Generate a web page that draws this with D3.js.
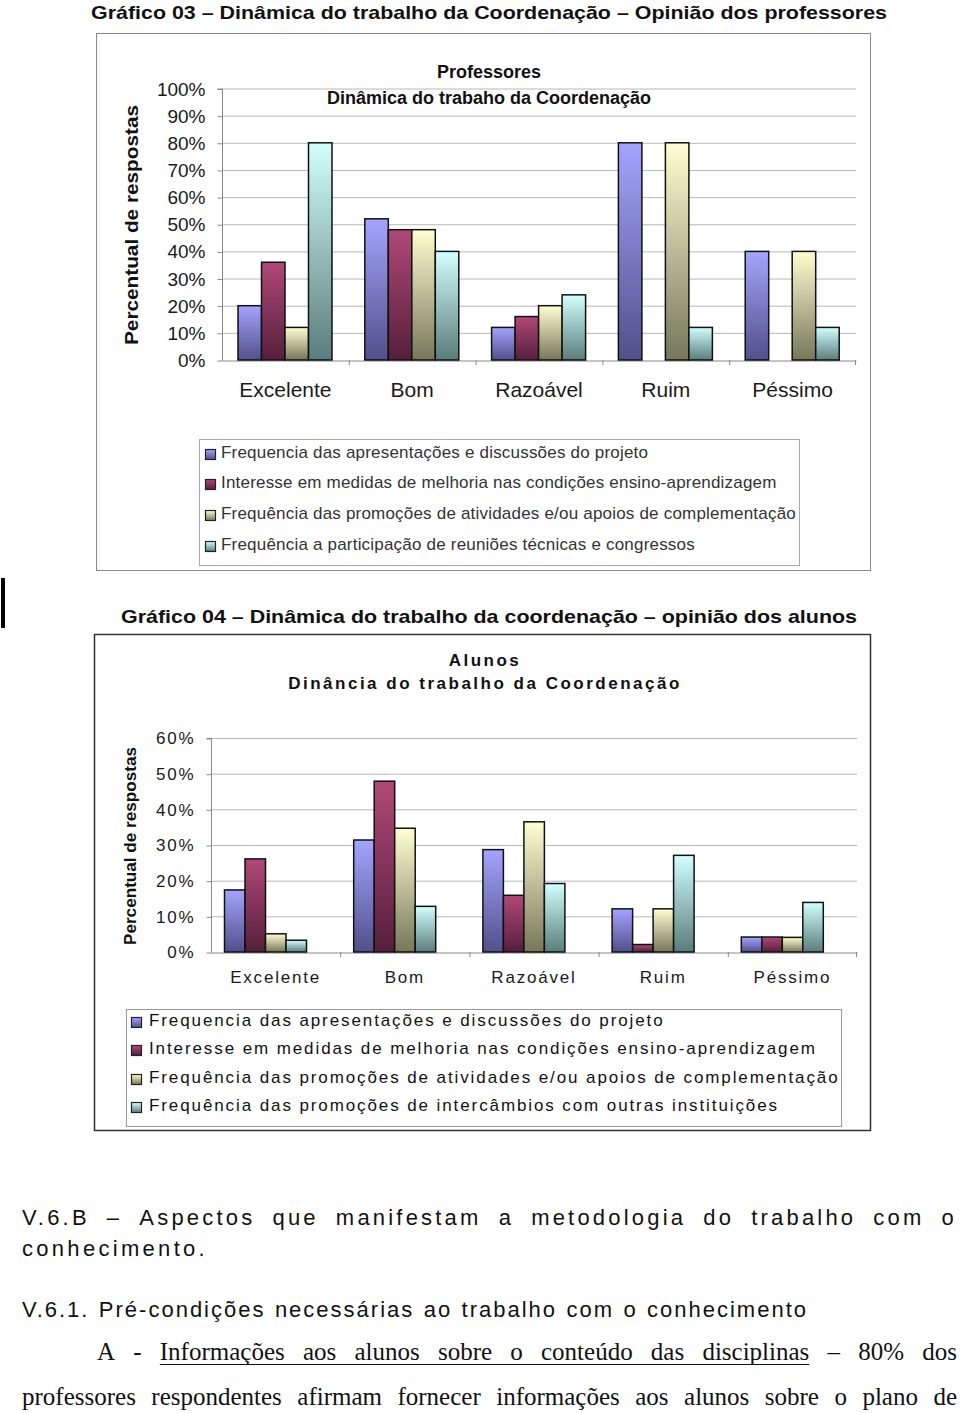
<!DOCTYPE html>
<html><head><meta charset="utf-8">
<script src="https://cdn.jsdelivr.net/npm/d3@7"></script>
<style>
body{margin:0;background:#fff;}
svg{display:block;}
text{font-family:"Liberation Sans",Arial,sans-serif;}
.serif{font-family:"Liberation Serif","Times New Roman",serif;}
</style></head>
<body>
<svg id="c" width="960" height="1413"></svg>
<script>
// ---------- data ----------
const categories = ["Excelente","Bom","Razoável","Ruim","Péssimo"];
const profSeriesNames = [
  "Frequencia das apresentações e discussões do projeto",
  "Interesse em medidas de melhoria nas condições ensino-aprendizagem",
  "Frequência das promoções de atividades e/ou apoios de complementação",
  "Frequência a participação de reuniões técnicas e congressos"];
const profBlue   = [20, 52, 12, 80, 40];
const profMaroon = [36, 48, 16,  0,  0];
const profYellow = [12, 48, 20, 80, 40];
const profCyan   = [80, 40, 24, 12, 12];
const profTicks = [0,10,20,30,40,50,60,70,80,90,100];

const aluSeriesNames = [
  "Frequencia das apresentações e discussões do projeto",
  "Interesse em medidas de melhoria nas condições ensino-aprendizagem",
  "Frequência das promoções de atividades e/ou apoios de complementação",
  "Frequência das promoções de intercâmbios com outras instituições"];
const aluBlue   = [17.4, 31.4, 28.7, 12.1, 4.2];
const aluMaroon = [26.1, 47.9, 15.9,  2.1, 4.2];
const aluYellow = [ 5.1, 34.7, 36.5, 12.1, 4.1];
const aluCyan   = [ 3.3, 12.8, 19.2, 27.1, 13.9];
const aluTicks = [0,10,20,30,40,50,60];

// ---------- styles ----------
const grads = [
  {id:"gBlue",  top:"#a4a4ff", bot:"#50508a"},
  {id:"gMaroon",top:"#b04878", bot:"#561f3c"},
  {id:"gYellow",top:"#ffffd2", bot:"#76765a"},
  {id:"gCyan",  top:"#d2ffff", bot:"#5a7c7c"}];

const svg = d3.select("#c");
const defs = svg.append("defs");
grads.forEach(g=>{
  const lg = defs.append("linearGradient").attr("id",g.id).attr("x1",0).attr("y1",0).attr("x2",0).attr("y2",1);
  lg.append("stop").attr("offset","0%").attr("stop-color",g.top);
  lg.append("stop").attr("offset","100%").attr("stop-color",g.bot);
});

function drawChart(opt){
  const g = svg.append("g");
  g.append("rect").attr("x",opt.box[0]).attr("y",opt.box[1]).attr("width",opt.box[2]).attr("height",opt.box[3])
    .attr("fill","#fff").attr("stroke",opt.boxStroke).attr("stroke-width",opt.boxSW);
  const x = d3.scaleBand().domain(opt.categories).range([opt.left,opt.right]).padding(0);
  const y = d3.scaleLinear().domain([0,opt.max]).range([opt.bottom,opt.top]);
  const bw = x.bandwidth();
  const xs = d3.scaleBand().domain([0,1,2,3]).range([opt.padFrac*bw,(opt.padFrac+opt.groupFrac)*bw]).padding(0);
  g.append("g").selectAll("line").data(opt.ticks.filter(t=>t>0)).join("line")
    .attr("x1",opt.left).attr("x2",opt.right).attr("y1",d=>y(d)+0.5).attr("y2",d=>y(d)+0.5)
    .attr("stroke","#b8b8b8").attr("stroke-width",1);
  const ya = d3.axisLeft(y).tickValues(opt.ticks).tickFormat(d=>d+"%").tickSize(5).tickPadding(opt.tickPad);
  const yg = g.append("g").attr("transform",`translate(${opt.left+0.5},0.5)`).call(ya);
  yg.select(".domain").attr("stroke","#888").attr("d",`M-5,${opt.top}H0V${opt.bottom}`);
  yg.selectAll(".tick line").attr("stroke","#888");
  yg.selectAll(".tick text").attr("fill","#1a1a1a").attr("font-size",opt.yFont).attr("letter-spacing",opt.ls)
    .attr("font-family",'"Liberation Sans",Arial,sans-serif');
  const xa = d3.axisBottom(x).tickSize(0).tickPadding(opt.catPad);
  const xg = g.append("g").attr("transform",`translate(0,${opt.bottom+0.5})`).call(xa);
  xg.select(".domain").attr("stroke","#888");
  xg.selectAll(".tick text").attr("fill","#1a1a1a").attr("font-size",opt.catFont).attr("letter-spacing",opt.ls)
    .attr("font-family",'"Liberation Sans",Arial,sans-serif');
  g.append("g").selectAll("line").data(opt.categories.slice(1).concat(["__end"])).join("line")
    .attr("x1",d=>d==="__end"?opt.right-0.5:x(d)+0.5).attr("x2",d=>d==="__end"?opt.right-0.5:x(d)+0.5)
    .attr("y1",opt.bottom).attr("y2",opt.bottom+5).attr("stroke","#888");
  opt.series.forEach((vals,si)=>{
    g.append("g").selectAll("rect").data(vals.map((v,i)=>({v,c:opt.categories[i]})).filter(d=>d.v>0)).join("rect")
      .attr("x",d=>x(d.c)+xs(si)).attr("width",xs.bandwidth())
      .attr("y",d=>y(d.v)).attr("height",d=>y(0)-y(d.v))
      .attr("fill",`url(#${grads[si].id})`).attr("stroke","#111").attr("stroke-width",1.5);
  });
  opt.titles.forEach(t=>{
    g.append("text").attr("x",t.x).attr("y",t.y).attr("text-anchor","middle").attr("font-weight","bold")
      .attr("font-size",t.size).attr("letter-spacing",t.ls||0).attr("fill","#111").text(t.text);
  });
  g.append("text").attr("transform",`translate(${opt.yTitle.x},${opt.yTitle.y}) rotate(-90)`)
    .attr("text-anchor","middle").attr("font-weight","bold").attr("font-size",opt.yTitle.size)
    .attr("textLength",opt.yTitle.len).attr("lengthAdjust","spacingAndGlyphs")
    .attr("fill","#111").text("Percentual de respostas");
  const L = opt.legend;
  g.append("rect").attr("x",L.box[0]+0.5).attr("y",L.box[1]+0.5).attr("width",L.box[2]).attr("height",L.box[3])
    .attr("fill","#fff").attr("stroke",L.stroke);
  opt.names.forEach((n,i)=>{
    const cy = L.rows[i];
    g.append("rect").attr("x",L.sx+0.5).attr("y",cy-5+0.5).attr("width",10).attr("height",10)
      .attr("fill",`url(#${grads[i].id})`).attr("stroke","#222").attr("stroke-width",1.2);
    g.append("text").attr("x",L.tx).attr("y",cy).attr("dominant-baseline","middle")
      .attr("font-size",L.size).attr("letter-spacing",L.ls).attr("fill",L.fill).text(n);
  });
}

svg.append("text").attr("x",91).attr("y",19).attr("font-weight","bold").attr("font-size",19)
  .attr("textLength",796).attr("lengthAdjust","spacingAndGlyphs").attr("fill","#111")
  .text("Gráfico 03 – Dinâmica do trabalho da Coordenação – Opinião dos professores");

drawChart({
  box:[96.5,33.5,774,537], boxStroke:"#8a8a8a", boxSW:1,
  categories, series:[profBlue,profMaroon,profYellow,profCyan], names:profSeriesNames,
  left:222, right:856, top:88.5, bottom:360, max:100, ticks:profTicks,
  padFrac:16/126.8, groupFrac:94/126.8,
  yFont:19, catFont:21, tickPad:12, catPad:22, ls:0,
  titles:[{text:"Professores",x:489,y:78,size:18},{text:"Dinâmica do trabaho da Coordenação",x:489,y:104,size:18}],
  yTitle:{x:138,y:225,size:19,len:240},
  legend:{box:[199,439,600,126],stroke:"#aaa",rows:[454,484,515,546],sx:205,tx:221,size:17,ls:0.2,fill:"#333"}
});

// revision mark at left margin
svg.append("rect").attr("x",1).attr("y",578).attr("width",4).attr("height",50).attr("fill","#000");

svg.append("text").attr("x",121).attr("y",623).attr("font-weight","bold").attr("font-size",19)
  .attr("textLength",736).attr("lengthAdjust","spacingAndGlyphs").attr("fill","#111")
  .text("Gráfico 04 – Dinâmica do trabalho da coordenação – opinião dos alunos");

drawChart({
  box:[94.5,634.5,776,496], boxStroke:"#333", boxSW:1.5,
  categories, series:[aluBlue,aluMaroon,aluYellow,aluCyan], names:aluSeriesNames,
  left:211, right:857, top:738, bottom:952, max:60, ticks:aluTicks,
  padFrac:13.5/129.2, groupFrac:82/129.2,
  yFont:17, catFont:17, tickPad:11, catPad:18, ls:1.8,
  titles:[{text:"Alunos",x:485,y:666,size:17,ls:2.5},{text:"Dinância do trabalho da Coordenação",x:485,y:689,size:17,ls:2.5}],
  yTitle:{x:136,y:846,size:17,len:198},
  legend:{box:[126,1009,715,117],stroke:"#999",rows:[1022,1050,1079,1107],sx:131,tx:149,size:17,ls:1.9,fill:"#111"}
});

// ---------- body text ----------
function justify(words,x0,x1,y,cls,size,ls){
  const items = words.map(w=>{
    const t = svg.append("text").attr("class",cls).attr("y",y).attr("font-size",size)
      .attr("letter-spacing",ls).attr("fill","#111").text(w);
    return {t,w:t.node().getComputedTextLength()};
  });
  const tot = d3.sum(items,d=>d.w);
  const gap = items.length>1 ? (x1-x0-tot)/(items.length-1) : 0;
  let cx = x0; const pos=[];
  items.forEach(it=>{ it.t.attr("x",cx); pos.push([cx,cx+it.w]); cx += it.w+gap; });
  return pos;
}
justify("V.6.B – Aspectos que manifestam a metodologia do trabalho com o".split(" "),22,957,1225,"sans",22,3.2);
justify(["conhecimento."],22,210,1256,"sans",22,3.3);
justify("V.6.1. Pré-condições necessárias ao trabalho com o conhecimento".split(" "),22,808,1317,"sans",22,2.0);
const p4 = justify("A - Informações aos alunos sobre o conteúdo das disciplinas – 80% dos".split(" "),97,957,1360,"serif",25,0);
svg.append("line").attr("x1",p4[2][0]).attr("x2",p4[9][1]).attr("y1",1364.5).attr("y2",1364.5).attr("stroke","#111").attr("stroke-width",1);
justify("professores respondentes afirmam fornecer informações aos alunos sobre o plano de".split(" "),22,957,1405,"serif",25,0);
</script>
</body></html>
